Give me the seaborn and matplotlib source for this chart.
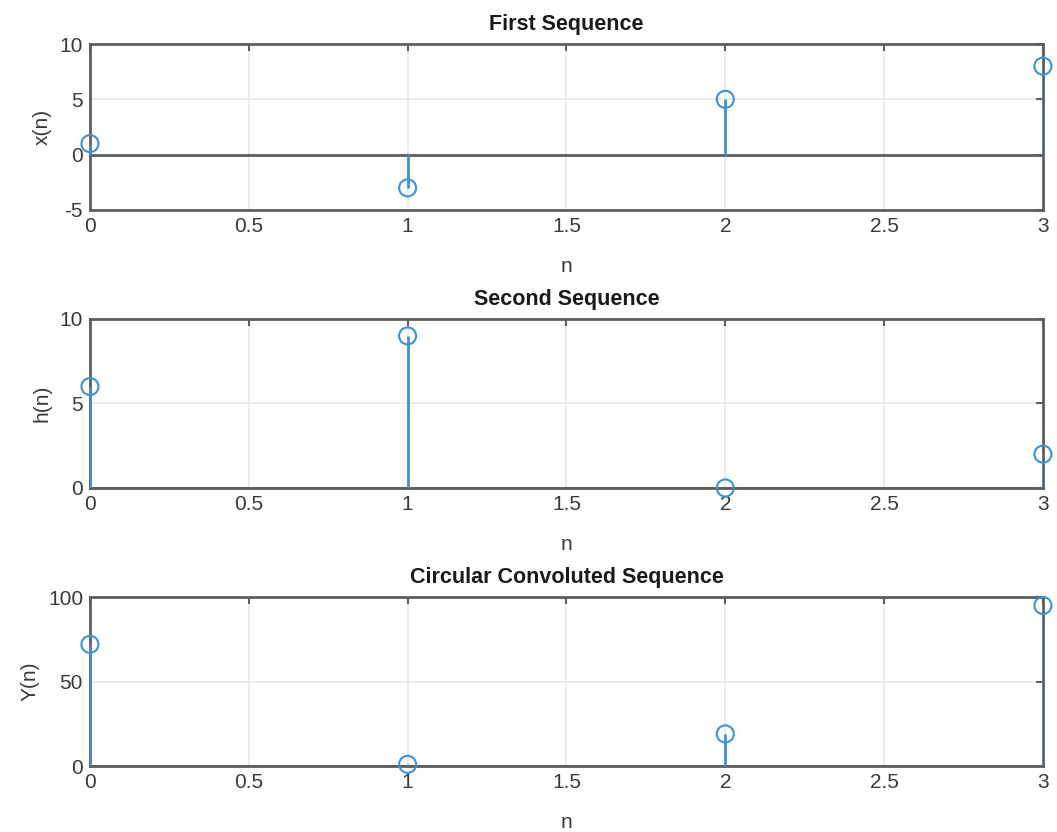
import matplotlib
matplotlib.use("Agg")
import matplotlib.pyplot as plt
import seaborn as sns
import pandas as pd

# sequences
n = [0, 1, 2, 3]
x_seq = [1, -3, 5, 8]
h_seq = [6, 9, 0, 2]
y_seq = [72, 1, 19, 95]

titles = ["First Sequence", "Second Sequence", "Circular Convoluted Sequence"]
ylabels = ["x(n)", "h(n)", "Y(n)"]
ylims = [(-5, 10), (0, 10), (0, 100)]
yticks = [[-5, 0, 5, 10], [0, 5, 10], [0, 50, 100]]
xticks = [0, 0.5, 1, 1.5, 2, 2.5, 3]
xticklabels = ["0", "0.5", "1", "1.5", "2", "2.5", "3"]

sns.set_theme(style="whitegrid")
plt.rcParams["font.family"] = ["Liberation Sans", "DejaVu Sans"]
plt.rcParams["axes.unicode_minus"] = False

stem_color = "#3a93d6"
axis_color = "#5e5e5e"
text_color = "#3a3a3a"
title_color = "#1a1a1a"

fig = plt.figure(figsize=(10.57, 8.32), dpi=100)
positions = [
    [0.0851, 0.7476, 0.9016, 0.1995],
    [0.0851, 0.4135, 0.9016, 0.2031],
    [0.0851, 0.0793, 0.9016, 0.2031],
]

for pos, vals, title, ylab, ylim, yt in zip(positions, [x_seq, h_seq, y_seq],
                                            titles, ylabels, ylims, yticks):
    ax = fig.add_axes(pos)
    df = pd.DataFrame({"n": n, "v": vals})

    ax.vlines(df["n"], 0, df["v"], color=stem_color, linewidth=2, zorder=3)
    sns.scatterplot(data=df, x="n", y="v", ax=ax, marker="o", s=150,
                    facecolors="none", edgecolor=stem_color, linewidth=1.5,
                    zorder=4, clip_on=False)
    # baseline
    ax.axhline(0, color=axis_color, linewidth=2, zorder=2)

    ax.set_xlim(0, 3)
    ax.set_ylim(*ylim)
    ax.set_xticks(xticks)
    ax.set_xticklabels(xticklabels)
    ax.set_yticks(yt)
    ax.set_title(title, fontsize=15.5, fontweight="bold", color=title_color, pad=10)
    ax.set_xlabel("n", fontsize=15, color=text_color, labelpad=15)
    ax.set_ylabel(ylab, fontsize=15, color=text_color, labelpad=6)
    ax.tick_params(axis="both", direction="in", length=5, width=1.5,
                   colors=axis_color, labelcolor=text_color, labelsize=15,
                   pad=5, top=True, right=True)
    ax.grid(True, color="#e8e8e8", linewidth=1.2)
    for side in ["left", "right", "top", "bottom"]:
        ax.spines[side].set_color(axis_color)
        ax.spines[side].set_linewidth(2)
        ax.spines[side].set_visible(True)
    ax.set_facecolor("white")

fig.savefig("out.png", dpi=100, facecolor="white")
